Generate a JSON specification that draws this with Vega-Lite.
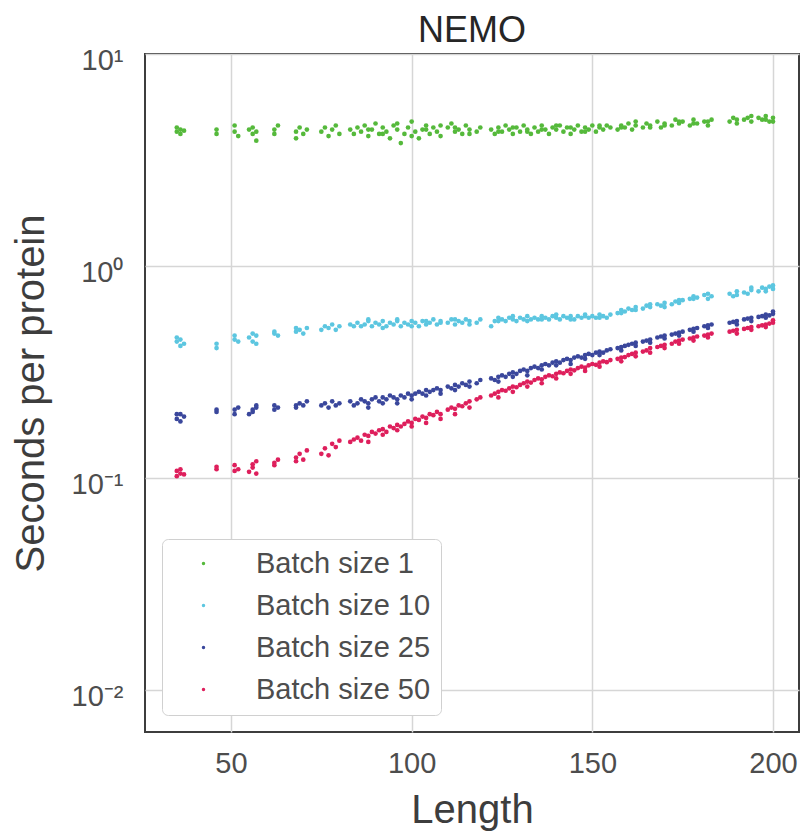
{
  "$schema": "https://vega.github.io/schema/vega-lite/v6.json",
  "autosize": "none",
  "width": 654,
  "height": 678,
  "padding": {"left": 145, "top": 54, "right": 5, "bottom": 100},
  "background": "white",
  "title": {"text": "NEMO", "fontSize": 36, "font": "Liberation Sans", "fontWeight": "normal", "color": "#262626", "offset": -4},
  "config": {
    "font": "Liberation Sans",
    "view": {"stroke": "#3d3d3d", "strokeWidth": 2}
  },
  "data": {"values": [
{"x":35,"g":1,"y":4.3},{"x":35,"g":10,"y":0.44},{"x":35,"g":25,"y":0.19},{"x":35,"g":50,"y":0.102},
{"x":35,"g":1,"y":4.5},{"x":35,"g":10,"y":0.46},{"x":35,"g":25,"y":0.2},{"x":35,"g":50,"y":0.108},
{"x":36,"g":1,"y":4.2},{"x":36,"g":10,"y":0.42},{"x":36,"g":25,"y":0.185},{"x":36,"g":50,"y":0.105},
{"x":36,"g":1,"y":4.4},{"x":36,"g":10,"y":0.45},{"x":36,"g":25,"y":0.2},{"x":36,"g":50,"y":0.11},
{"x":37,"g":1,"y":4.35},{"x":37,"g":10,"y":0.43},{"x":37,"g":25,"y":0.195},{"x":37,"g":50,"y":0.104},
{"x":46,"g":1,"y":4.2},{"x":46,"g":10,"y":0.41},{"x":46,"g":25,"y":0.205},{"x":46,"g":50,"y":0.11},
{"x":46,"g":1,"y":4.4},{"x":46,"g":10,"y":0.43},{"x":46,"g":25,"y":0.21},{"x":46,"g":50,"y":0.113},
{"x":51,"g":1,"y":4.3},{"x":51,"g":10,"y":0.45},{"x":51,"g":25,"y":0.2},{"x":51,"g":50,"y":0.108},
{"x":51,"g":1,"y":4.6},{"x":51,"g":10,"y":0.47},{"x":51,"g":25,"y":0.21},{"x":51,"g":50,"y":0.115},
{"x":52,"g":1,"y":4.1},{"x":52,"g":10,"y":0.44},{"x":52,"g":25,"y":0.215},{"x":52,"g":50,"y":0.11},
{"x":55,"g":1,"y":4.4},{"x":55,"g":10,"y":0.46},{"x":55,"g":25,"y":0.2},{"x":55,"g":50,"y":0.107},
{"x":56,"g":1,"y":4.2},{"x":56,"g":10,"y":0.44},{"x":56,"g":25,"y":0.21},{"x":56,"g":50,"y":0.112},
{"x":56,"g":1,"y":4.5},{"x":56,"g":10,"y":0.48},{"x":56,"g":25,"y":0.205},{"x":56,"g":50,"y":0.116},
{"x":57,"g":1,"y":3.9},{"x":57,"g":10,"y":0.43},{"x":57,"g":25,"y":0.215},{"x":57,"g":50,"y":0.105},
{"x":57,"g":1,"y":4.3},{"x":57,"g":10,"y":0.47},{"x":57,"g":25,"y":0.22},{"x":57,"g":50,"y":0.12},
{"x":62,"g":1,"y":4.4},{"x":62,"g":10,"y":0.48},{"x":62,"g":25,"y":0.21},{"x":62,"g":50,"y":0.115},
{"x":62,"g":1,"y":4.2},{"x":62,"g":10,"y":0.49},{"x":62,"g":25,"y":0.22},{"x":62,"g":50,"y":0.118},
{"x":63,"g":1,"y":4.6},{"x":63,"g":10,"y":0.47},{"x":63,"g":25,"y":0.215},{"x":63,"g":50,"y":0.122},
{"x":68,"g":1,"y":4.3},{"x":68,"g":10,"y":0.49},{"x":68,"g":25,"y":0.22},{"x":68,"g":50,"y":0.12},
{"x":68,"g":1,"y":4.0},{"x":68,"g":10,"y":0.51},{"x":68,"g":25,"y":0.215},{"x":68,"g":50,"y":0.125},
{"x":69,"g":1,"y":4.5},{"x":69,"g":10,"y":0.5},{"x":69,"g":25,"y":0.225},{"x":69,"g":50,"y":0.13},
{"x":70,"g":1,"y":4.2},{"x":70,"g":10,"y":0.48},{"x":70,"g":25,"y":0.22},{"x":70,"g":50,"y":0.122},
{"x":71,"g":1,"y":4.4},{"x":71,"g":10,"y":0.51},{"x":71,"g":25,"y":0.23},{"x":71,"g":50,"y":0.135},
{"x":75,"g":1,"y":4.3},{"x":75,"g":10,"y":0.5},{"x":75,"g":25,"y":0.22},{"x":75,"g":50,"y":0.13},
{"x":76,"g":1,"y":4.5},{"x":76,"g":10,"y":0.52},{"x":76,"g":25,"y":0.225},{"x":76,"g":50,"y":0.138},
{"x":77,"g":1,"y":4.1},{"x":77,"g":10,"y":0.51},{"x":77,"g":25,"y":0.215},{"x":77,"g":50,"y":0.128},
{"x":78,"g":1,"y":4.4},{"x":78,"g":10,"y":0.53},{"x":78,"g":25,"y":0.23},{"x":78,"g":50,"y":0.145},
{"x":79,"g":1,"y":4.6},{"x":79,"g":10,"y":0.5},{"x":79,"g":25,"y":0.22},{"x":79,"g":50,"y":0.14},
{"x":80,"g":1,"y":4.2},{"x":80,"g":10,"y":0.52},{"x":80,"g":25,"y":0.225},{"x":80,"g":50,"y":0.15},
{"x":83,"g":1,"y":4.4},{"x":83,"g":10,"y":0.53},{"x":83,"g":25,"y":0.23},{"x":83,"g":50,"y":0.148},
{"x":84,"g":1,"y":4.2},{"x":84,"g":10,"y":0.52},{"x":84,"g":25,"y":0.22},{"x":84,"g":50,"y":0.152},
{"x":85,"g":1,"y":4.5},{"x":85,"g":10,"y":0.54},{"x":85,"g":25,"y":0.225},{"x":85,"g":50,"y":0.155},
{"x":86,"g":1,"y":4.3},{"x":86,"g":10,"y":0.52},{"x":86,"g":25,"y":0.235},{"x":86,"g":50,"y":0.15},
{"x":87,"g":1,"y":4.6},{"x":87,"g":10,"y":0.53},{"x":87,"g":25,"y":0.23},{"x":87,"g":50,"y":0.16},
{"x":88,"g":1,"y":4.1},{"x":88,"g":10,"y":0.55},{"x":88,"g":25,"y":0.225},{"x":88,"g":50,"y":0.158},
{"x":88,"g":1,"y":4.4},{"x":88,"g":10,"y":0.56},{"x":88,"g":25,"y":0.215},{"x":88,"g":50,"y":0.148},
{"x":89,"g":1,"y":4.4},{"x":89,"g":10,"y":0.52},{"x":89,"g":25,"y":0.235},{"x":89,"g":50,"y":0.165},
{"x":90,"g":1,"y":4.7},{"x":90,"g":10,"y":0.54},{"x":90,"g":25,"y":0.24},{"x":90,"g":50,"y":0.162},
{"x":91,"g":1,"y":4.2},{"x":91,"g":10,"y":0.53},{"x":91,"g":25,"y":0.23},{"x":91,"g":50,"y":0.168},
{"x":92,"g":1,"y":4.5},{"x":92,"g":10,"y":0.55},{"x":92,"g":25,"y":0.24},{"x":92,"g":50,"y":0.17},
{"x":92,"g":1,"y":4.2},{"x":92,"g":10,"y":0.51},{"x":92,"g":25,"y":0.225},{"x":92,"g":50,"y":0.16},
{"x":93,"g":1,"y":4.3},{"x":93,"g":10,"y":0.52},{"x":93,"g":25,"y":0.235},{"x":93,"g":50,"y":0.165},
{"x":94,"g":1,"y":4.0},{"x":94,"g":10,"y":0.54},{"x":94,"g":25,"y":0.245},{"x":94,"g":50,"y":0.175},
{"x":95,"g":1,"y":4.6},{"x":95,"g":10,"y":0.53},{"x":95,"g":25,"y":0.24},{"x":95,"g":50,"y":0.172},
{"x":96,"g":1,"y":4.4},{"x":96,"g":10,"y":0.55},{"x":96,"g":25,"y":0.235},{"x":96,"g":50,"y":0.178},
{"x":96,"g":1,"y":4.7},{"x":96,"g":10,"y":0.56},{"x":96,"g":25,"y":0.225},{"x":96,"g":50,"y":0.168},
{"x":97,"g":1,"y":3.8},{"x":97,"g":10,"y":0.52},{"x":97,"g":25,"y":0.245},{"x":97,"g":50,"y":0.175},
{"x":98,"g":1,"y":4.2},{"x":98,"g":10,"y":0.54},{"x":98,"g":25,"y":0.24},{"x":98,"g":50,"y":0.18},
{"x":99,"g":1,"y":4.5},{"x":99,"g":10,"y":0.53},{"x":99,"g":25,"y":0.25},{"x":99,"g":50,"y":0.185},
{"x":100,"g":1,"y":4.8},{"x":100,"g":10,"y":0.55},{"x":100,"g":25,"y":0.245},{"x":100,"g":50,"y":0.182},
{"x":100,"g":1,"y":4.1},{"x":100,"g":10,"y":0.52},{"x":100,"g":25,"y":0.235},{"x":100,"g":50,"y":0.175},
{"x":101,"g":1,"y":4.3},{"x":101,"g":10,"y":0.54},{"x":101,"g":25,"y":0.25},{"x":101,"g":50,"y":0.19},
{"x":102,"g":1,"y":4.0},{"x":102,"g":10,"y":0.52},{"x":102,"g":25,"y":0.255},{"x":102,"g":50,"y":0.188},
{"x":103,"g":1,"y":4.4},{"x":103,"g":10,"y":0.55},{"x":103,"g":25,"y":0.25},{"x":103,"g":50,"y":0.195},
{"x":104,"g":1,"y":4.6},{"x":104,"g":10,"y":0.53},{"x":104,"g":25,"y":0.26},{"x":104,"g":50,"y":0.192},
{"x":104,"g":1,"y":4.4},{"x":104,"g":10,"y":0.55},{"x":104,"g":25,"y":0.245},{"x":104,"g":50,"y":0.182},
{"x":105,"g":1,"y":4.2},{"x":105,"g":10,"y":0.54},{"x":105,"g":25,"y":0.255},{"x":105,"g":50,"y":0.2},
{"x":106,"g":1,"y":4.5},{"x":106,"g":10,"y":0.56},{"x":106,"g":25,"y":0.26},{"x":106,"g":50,"y":0.198},
{"x":107,"g":1,"y":4.3},{"x":107,"g":10,"y":0.53},{"x":107,"g":25,"y":0.265},{"x":107,"g":50,"y":0.205},
{"x":108,"g":1,"y":4.1},{"x":108,"g":10,"y":0.55},{"x":108,"g":25,"y":0.26},{"x":108,"g":50,"y":0.2},
{"x":108,"g":1,"y":4.6},{"x":108,"g":10,"y":0.54},{"x":108,"g":25,"y":0.25},{"x":108,"g":50,"y":0.19},
{"x":110,"g":1,"y":4.5},{"x":110,"g":10,"y":0.54},{"x":110,"g":25,"y":0.27},{"x":110,"g":50,"y":0.21},
{"x":111,"g":1,"y":4.7},{"x":111,"g":10,"y":0.56},{"x":111,"g":25,"y":0.265},{"x":111,"g":50,"y":0.215},
{"x":112,"g":1,"y":4.3},{"x":112,"g":10,"y":0.53},{"x":112,"g":25,"y":0.275},{"x":112,"g":50,"y":0.212},
{"x":112,"g":1,"y":4.5},{"x":112,"g":10,"y":0.56},{"x":112,"g":25,"y":0.26},{"x":112,"g":50,"y":0.2},
{"x":113,"g":1,"y":4.4},{"x":113,"g":10,"y":0.55},{"x":113,"g":25,"y":0.27},{"x":113,"g":50,"y":0.22},
{"x":114,"g":1,"y":4.2},{"x":114,"g":10,"y":0.54},{"x":114,"g":25,"y":0.28},{"x":114,"g":50,"y":0.218},
{"x":115,"g":1,"y":4.6},{"x":115,"g":10,"y":0.56},{"x":115,"g":25,"y":0.275},{"x":115,"g":50,"y":0.225},
{"x":116,"g":1,"y":4.4},{"x":116,"g":10,"y":0.55},{"x":116,"g":25,"y":0.285},{"x":116,"g":50,"y":0.23},
{"x":116,"g":1,"y":4.2},{"x":116,"g":10,"y":0.53},{"x":116,"g":25,"y":0.27},{"x":116,"g":50,"y":0.215},
{"x":118,"g":1,"y":4.3},{"x":118,"g":10,"y":0.54},{"x":118,"g":25,"y":0.28},{"x":118,"g":50,"y":0.235},
{"x":119,"g":1,"y":4.5},{"x":119,"g":10,"y":0.56},{"x":119,"g":25,"y":0.29},{"x":119,"g":50,"y":0.24},
{"x":122,"g":1,"y":4.4},{"x":122,"g":10,"y":0.52},{"x":122,"g":25,"y":0.295},{"x":122,"g":50,"y":0.245},
{"x":123,"g":1,"y":4.2},{"x":123,"g":10,"y":0.55},{"x":123,"g":25,"y":0.29},{"x":123,"g":50,"y":0.25},
{"x":124,"g":1,"y":4.5},{"x":124,"g":10,"y":0.57},{"x":124,"g":25,"y":0.3},{"x":124,"g":50,"y":0.255},
{"x":124,"g":1,"y":4.3},{"x":124,"g":10,"y":0.55},{"x":124,"g":25,"y":0.285},{"x":124,"g":50,"y":0.24},
{"x":125,"g":1,"y":4.3},{"x":125,"g":10,"y":0.56},{"x":125,"g":25,"y":0.305},{"x":125,"g":50,"y":0.26},
{"x":126,"g":1,"y":4.6},{"x":126,"g":10,"y":0.55},{"x":126,"g":25,"y":0.3},{"x":126,"g":50,"y":0.258},
{"x":127,"g":1,"y":4.4},{"x":127,"g":10,"y":0.57},{"x":127,"g":25,"y":0.31},{"x":127,"g":50,"y":0.265},
{"x":128,"g":1,"y":4.2},{"x":128,"g":10,"y":0.56},{"x":128,"g":25,"y":0.315},{"x":128,"g":50,"y":0.27},
{"x":128,"g":1,"y":4.5},{"x":128,"g":10,"y":0.58},{"x":128,"g":25,"y":0.3},{"x":128,"g":50,"y":0.255},
{"x":129,"g":1,"y":4.5},{"x":129,"g":10,"y":0.55},{"x":129,"g":25,"y":0.31},{"x":129,"g":50,"y":0.268},
{"x":130,"g":1,"y":4.3},{"x":130,"g":10,"y":0.57},{"x":130,"g":25,"y":0.32},{"x":130,"g":50,"y":0.275},
{"x":131,"g":1,"y":4.6},{"x":131,"g":10,"y":0.56},{"x":131,"g":25,"y":0.325},{"x":131,"g":50,"y":0.28},
{"x":132,"g":1,"y":4.4},{"x":132,"g":10,"y":0.58},{"x":132,"g":25,"y":0.32},{"x":132,"g":50,"y":0.285},
{"x":132,"g":1,"y":4.3},{"x":132,"g":10,"y":0.55},{"x":132,"g":25,"y":0.305},{"x":132,"g":50,"y":0.27},
{"x":133,"g":1,"y":4.2},{"x":133,"g":10,"y":0.56},{"x":133,"g":25,"y":0.33},{"x":133,"g":50,"y":0.282},
{"x":134,"g":1,"y":4.5},{"x":134,"g":10,"y":0.57},{"x":134,"g":25,"y":0.335},{"x":134,"g":50,"y":0.29},
{"x":135,"g":1,"y":4.3},{"x":135,"g":10,"y":0.56},{"x":135,"g":25,"y":0.33},{"x":135,"g":50,"y":0.295},
{"x":136,"g":1,"y":4.6},{"x":136,"g":10,"y":0.58},{"x":136,"g":25,"y":0.34},{"x":136,"g":50,"y":0.292},
{"x":136,"g":1,"y":4.4},{"x":136,"g":10,"y":0.56},{"x":136,"g":25,"y":0.325},{"x":136,"g":50,"y":0.28},
{"x":137,"g":1,"y":4.4},{"x":137,"g":10,"y":0.57},{"x":137,"g":25,"y":0.345},{"x":137,"g":50,"y":0.3},
{"x":138,"g":1,"y":4.2},{"x":138,"g":10,"y":0.56},{"x":138,"g":25,"y":0.34},{"x":138,"g":50,"y":0.305},
{"x":139,"g":1,"y":4.5},{"x":139,"g":10,"y":0.58},{"x":139,"g":25,"y":0.35},{"x":139,"g":50,"y":0.302},
{"x":140,"g":1,"y":4.4},{"x":140,"g":10,"y":0.57},{"x":140,"g":25,"y":0.355},{"x":140,"g":50,"y":0.31},
{"x":140,"g":1,"y":4.6},{"x":140,"g":10,"y":0.59},{"x":140,"g":25,"y":0.34},{"x":140,"g":50,"y":0.295},
{"x":141,"g":1,"y":4.6},{"x":141,"g":10,"y":0.56},{"x":141,"g":25,"y":0.35},{"x":141,"g":50,"y":0.315},
{"x":142,"g":1,"y":4.3},{"x":142,"g":10,"y":0.58},{"x":142,"g":25,"y":0.36},{"x":142,"g":50,"y":0.312},
{"x":143,"g":1,"y":4.5},{"x":143,"g":10,"y":0.57},{"x":143,"g":25,"y":0.365},{"x":143,"g":50,"y":0.32},
{"x":144,"g":1,"y":4.2},{"x":144,"g":10,"y":0.58},{"x":144,"g":25,"y":0.36},{"x":144,"g":50,"y":0.325},
{"x":144,"g":1,"y":4.5},{"x":144,"g":10,"y":0.56},{"x":144,"g":25,"y":0.345},{"x":144,"g":50,"y":0.31},
{"x":145,"g":1,"y":4.4},{"x":145,"g":10,"y":0.56},{"x":145,"g":25,"y":0.37},{"x":145,"g":50,"y":0.322},
{"x":146,"g":1,"y":4.6},{"x":146,"g":10,"y":0.58},{"x":146,"g":25,"y":0.375},{"x":146,"g":50,"y":0.33},
{"x":147,"g":1,"y":4.3},{"x":147,"g":10,"y":0.57},{"x":147,"g":25,"y":0.37},{"x":147,"g":50,"y":0.335},
{"x":148,"g":1,"y":4.5},{"x":148,"g":10,"y":0.59},{"x":148,"g":25,"y":0.38},{"x":148,"g":50,"y":0.332},
{"x":148,"g":1,"y":4.3},{"x":148,"g":10,"y":0.58},{"x":148,"g":25,"y":0.365},{"x":148,"g":50,"y":0.32},
{"x":149,"g":1,"y":4.4},{"x":149,"g":10,"y":0.57},{"x":149,"g":25,"y":0.385},{"x":149,"g":50,"y":0.34},
{"x":150,"g":1,"y":4.6},{"x":150,"g":10,"y":0.58},{"x":150,"g":25,"y":0.38},{"x":150,"g":50,"y":0.345},
{"x":151,"g":1,"y":4.3},{"x":151,"g":10,"y":0.57},{"x":151,"g":25,"y":0.39},{"x":151,"g":50,"y":0.342},
{"x":152,"g":1,"y":4.5},{"x":152,"g":10,"y":0.59},{"x":152,"g":25,"y":0.395},{"x":152,"g":50,"y":0.35},
{"x":152,"g":1,"y":4.6},{"x":152,"g":10,"y":0.57},{"x":152,"g":25,"y":0.38},{"x":152,"g":50,"y":0.335},
{"x":153,"g":1,"y":4.4},{"x":153,"g":10,"y":0.58},{"x":153,"g":25,"y":0.39},{"x":153,"g":50,"y":0.355},
{"x":154,"g":1,"y":4.6},{"x":154,"g":10,"y":0.57},{"x":154,"g":25,"y":0.4},{"x":154,"g":50,"y":0.352},
{"x":155,"g":1,"y":4.5},{"x":155,"g":10,"y":0.59},{"x":155,"g":25,"y":0.405},{"x":155,"g":50,"y":0.36},
{"x":157,"g":1,"y":4.4},{"x":157,"g":10,"y":0.6},{"x":157,"g":25,"y":0.41},{"x":157,"g":50,"y":0.365},
{"x":158,"g":1,"y":4.6},{"x":158,"g":10,"y":0.62},{"x":158,"g":25,"y":0.415},{"x":158,"g":50,"y":0.37},
{"x":158,"g":1,"y":4.5},{"x":158,"g":10,"y":0.6},{"x":158,"g":25,"y":0.4},{"x":158,"g":50,"y":0.355},
{"x":159,"g":1,"y":4.5},{"x":159,"g":10,"y":0.61},{"x":159,"g":25,"y":0.42},{"x":159,"g":50,"y":0.372},
{"x":160,"g":1,"y":4.7},{"x":160,"g":10,"y":0.63},{"x":160,"g":25,"y":0.425},{"x":160,"g":50,"y":0.38},
{"x":161,"g":1,"y":4.4},{"x":161,"g":10,"y":0.62},{"x":161,"g":25,"y":0.43},{"x":161,"g":50,"y":0.385},
{"x":162,"g":1,"y":4.6},{"x":162,"g":10,"y":0.64},{"x":162,"g":25,"y":0.435},{"x":162,"g":50,"y":0.39},
{"x":162,"g":1,"y":4.8},{"x":162,"g":10,"y":0.62},{"x":162,"g":25,"y":0.42},{"x":162,"g":50,"y":0.375},
{"x":164,"g":1,"y":4.5},{"x":164,"g":10,"y":0.63},{"x":164,"g":25,"y":0.44},{"x":164,"g":50,"y":0.395},
{"x":165,"g":1,"y":4.7},{"x":165,"g":10,"y":0.65},{"x":165,"g":25,"y":0.445},{"x":165,"g":50,"y":0.4},
{"x":166,"g":1,"y":4.6},{"x":166,"g":10,"y":0.64},{"x":166,"g":25,"y":0.45},{"x":166,"g":50,"y":0.41},
{"x":166,"g":1,"y":4.5},{"x":166,"g":10,"y":0.66},{"x":166,"g":25,"y":0.435},{"x":166,"g":50,"y":0.39},
{"x":168,"g":1,"y":4.8},{"x":168,"g":10,"y":0.66},{"x":168,"g":25,"y":0.46},{"x":168,"g":50,"y":0.415},
{"x":169,"g":1,"y":4.5},{"x":169,"g":10,"y":0.65},{"x":169,"g":25,"y":0.465},{"x":169,"g":50,"y":0.42},
{"x":170,"g":1,"y":4.7},{"x":170,"g":10,"y":0.67},{"x":170,"g":25,"y":0.47},{"x":170,"g":50,"y":0.425},
{"x":170,"g":1,"y":4.6},{"x":170,"g":10,"y":0.64},{"x":170,"g":25,"y":0.455},{"x":170,"g":50,"y":0.41},
{"x":172,"g":1,"y":4.6},{"x":172,"g":10,"y":0.66},{"x":172,"g":25,"y":0.475},{"x":172,"g":50,"y":0.43},
{"x":173,"g":1,"y":4.9},{"x":173,"g":10,"y":0.68},{"x":173,"g":25,"y":0.48},{"x":173,"g":50,"y":0.44},
{"x":174,"g":1,"y":4.7},{"x":174,"g":10,"y":0.67},{"x":174,"g":25,"y":0.485},{"x":174,"g":50,"y":0.445},
{"x":174,"g":1,"y":4.8},{"x":174,"g":10,"y":0.69},{"x":174,"g":25,"y":0.47},{"x":174,"g":50,"y":0.43},
{"x":175,"g":1,"y":4.8},{"x":175,"g":10,"y":0.69},{"x":175,"g":25,"y":0.49},{"x":175,"g":50,"y":0.45},
{"x":177,"g":1,"y":4.6},{"x":177,"g":10,"y":0.7},{"x":177,"g":25,"y":0.5},{"x":177,"g":50,"y":0.455},
{"x":178,"g":1,"y":4.9},{"x":178,"g":10,"y":0.72},{"x":178,"g":25,"y":0.505},{"x":178,"g":50,"y":0.46},
{"x":178,"g":1,"y":4.7},{"x":178,"g":10,"y":0.7},{"x":178,"g":25,"y":0.49},{"x":178,"g":50,"y":0.445},
{"x":179,"g":1,"y":4.7},{"x":179,"g":10,"y":0.71},{"x":179,"g":25,"y":0.51},{"x":179,"g":50,"y":0.465},
{"x":181,"g":1,"y":4.8},{"x":181,"g":10,"y":0.73},{"x":181,"g":25,"y":0.52},{"x":181,"g":50,"y":0.47},
{"x":182,"g":1,"y":4.6},{"x":182,"g":10,"y":0.7},{"x":182,"g":25,"y":0.525},{"x":182,"g":50,"y":0.475},
{"x":182,"g":1,"y":4.8},{"x":182,"g":10,"y":0.74},{"x":182,"g":25,"y":0.51},{"x":182,"g":50,"y":0.46},
{"x":183,"g":1,"y":4.9},{"x":183,"g":10,"y":0.72},{"x":183,"g":25,"y":0.53},{"x":183,"g":50,"y":0.48},
{"x":188,"g":1,"y":4.8},{"x":188,"g":10,"y":0.74},{"x":188,"g":25,"y":0.54},{"x":188,"g":50,"y":0.49},
{"x":189,"g":1,"y":5.0},{"x":189,"g":10,"y":0.72},{"x":189,"g":25,"y":0.545},{"x":189,"g":50,"y":0.495},
{"x":190,"g":1,"y":4.7},{"x":190,"g":10,"y":0.76},{"x":190,"g":25,"y":0.55},{"x":190,"g":50,"y":0.5},
{"x":190,"g":1,"y":4.9},{"x":190,"g":10,"y":0.73},{"x":190,"g":25,"y":0.53},{"x":190,"g":50,"y":0.48},
{"x":192,"g":1,"y":4.9},{"x":192,"g":10,"y":0.75},{"x":192,"g":25,"y":0.56},{"x":192,"g":50,"y":0.505},
{"x":193,"g":1,"y":5.0},{"x":193,"g":10,"y":0.74},{"x":193,"g":25,"y":0.565},{"x":193,"g":50,"y":0.51},
{"x":194,"g":1,"y":4.8},{"x":194,"g":10,"y":0.77},{"x":194,"g":25,"y":0.57},{"x":194,"g":50,"y":0.515},
{"x":194,"g":1,"y":5.1},{"x":194,"g":10,"y":0.79},{"x":194,"g":25,"y":0.55},{"x":194,"g":50,"y":0.5},
{"x":196,"g":1,"y":5.0},{"x":196,"g":10,"y":0.76},{"x":196,"g":25,"y":0.575},{"x":196,"g":50,"y":0.52},
{"x":197,"g":1,"y":4.9},{"x":197,"g":10,"y":0.79},{"x":197,"g":25,"y":0.58},{"x":197,"g":50,"y":0.525},
{"x":198,"g":1,"y":5.1},{"x":198,"g":10,"y":0.78},{"x":198,"g":25,"y":0.59},{"x":198,"g":50,"y":0.53},
{"x":198,"g":1,"y":4.9},{"x":198,"g":10,"y":0.76},{"x":198,"g":25,"y":0.57},{"x":198,"g":50,"y":0.515},
{"x":199,"g":1,"y":4.8},{"x":199,"g":10,"y":0.8},{"x":199,"g":25,"y":0.585},{"x":199,"g":50,"y":0.535},
{"x":200,"g":1,"y":5.0},{"x":200,"g":10,"y":0.78},{"x":200,"g":25,"y":0.595},{"x":200,"g":50,"y":0.54},
{"x":200,"g":1,"y":4.8},{"x":200,"g":10,"y":0.81},{"x":200,"g":25,"y":0.61},{"x":200,"g":50,"y":0.555}
  ]},
  "mark": {"type": "circle", "size": 22, "opacity": 1},
  "encoding": {
    "x": {
      "field": "x", "type": "quantitative",
      "scale": {"domain": [26.2, 207.2], "nice": false, "zero": false},
      "axis": {
        "title": "Length", "values": [50, 100, 150, 200],
        "grid": true, "gridColor": "#d6d6d6", "gridWidth": 1.5,
        "domain": false, "ticks": false,
        "labelFontSize": 29, "labelColor": "#4d4d4d", "labelPadding": 17,
        "titleFontSize": 40, "titleFontWeight": "normal", "titleColor": "#3d3d3d", "titlePadding": 12
      }
    },
    "y": {
      "field": "y", "type": "quantitative",
      "scale": {"type": "log", "domain": [0.00634, 10.0], "nice": false},
      "axis": {
        "title": "Seconds per protein", "values": [0.01, 0.1, 1, 10],
        "labelExpr": "datum.value > 5 ? '10¹' : datum.value > 0.5 ? '10⁰' : datum.value > 0.05 ? '10⁻¹' : '10⁻²'",
        "grid": true, "gridColor": "#d6d6d6", "gridWidth": 1.5,
        "domain": false, "ticks": false,
        "labelFontSize": 29, "labelColor": "#4d4d4d", "labelPadding": 22, "labelOffset": 6,
        "titleFontSize": 40, "titleFontWeight": "normal", "titleColor": "#3d3d3d", "titlePadding": 20
      }
    },
    "color": {
      "field": "g", "type": "nominal",
      "scale": {"domain": [1, 10, 25, 50], "range": ["#55b93b", "#5cc6e0", "#3a479c", "#de1f5c"]},
      "legend": {
        "title": null, "orient": "none", "legendX": 17, "legendY": 485,
        "labelExpr": "'Batch size ' + datum.label",
        "labelFontSize": 29, "labelColor": "#4d4d4d", "labelOffset": 38, "labelLimit": 400,
        "symbolType": "circle", "symbolSize": 12, "symbolOffset": 17,
        "rowPadding": 12, "padding": 10,
        "strokeColor": "#d0d0d0", "fillColor": "white", "cornerRadius": 6
      }
    }
  }
}
